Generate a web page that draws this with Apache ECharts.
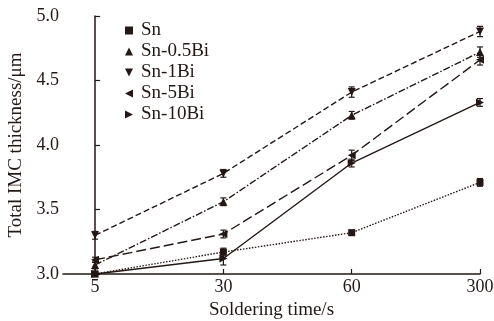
<!DOCTYPE html>
<html><head><meta charset="utf-8">
<script src="https://cdn.jsdelivr.net/npm/echarts@6/dist/echarts.min.js"></script>
<style>html,body{margin:0;padding:0;background:#fff}#c{width:494px;height:321px}</style>
</head><body><div id="c"></div>
<script>
var categories = ['5', '30', '60', '300'];
var seriesNames = ['Sn', 'Sn-0.5Bi', 'Sn-1Bi', 'Sn-5Bi', 'Sn-10Bi'];
var snVals      = [3.00, 3.17, 3.32, 3.71];
var sn05Vals    = [3.07, 3.56, 4.23, 4.72];
var sn1Vals     = [3.30, 3.78, 4.41, 4.88];
var sn5Vals     = [3.11, 3.31, 3.92, 4.66];
var sn10Vals    = [3.00, 3.12, 3.86, 4.33];
var snErr   = [0.02, 0.03, 0.02, 0.03];
var sn05Err = [0.03, 0.03, 0.03, 0.04];
var sn1Err  = [0.03, 0.03, 0.04, 0.04];
var sn5Err  = [0.02, 0.03, 0.04, 0.04];
var sn10Err = [0.02, 0.05, 0.03, 0.03];
var yTicks = [3.0, 3.5, 4.0, 4.5, 5.0];

var allVals = [snVals, sn05Vals, sn1Vals, sn5Vals, sn10Vals];
var allErr = [snErr, sn05Err, sn1Err, sn5Err, sn10Err];
var symbols = [
  'rect',
  'path://M0,10L5,0L10,10Z',
  'path://M0,0L10,0L5,10Z',
  'path://M10,0L10,10L0,5Z',
  'path://M0,0L10,5L0,10Z'
];
var lineTypes = [[1.5,1.5], [7,2,1.5,2], [6,3], [10,4], 'solid'];
var font = 'Liberation Serif';

var series = [];
allVals.forEach(function (vals, i) {
  series.push({
    name: seriesNames[i], type: 'line',
    data: vals.map(function (v, j) { return [j, v]; }),
    symbol: symbols[i], symbolSize: i === 0 ? 7 : 8,
    itemStyle: { color: '#231815' },
    lineStyle: { color: '#231815', width: 1.4, type: lineTypes[i] },
    z: 3
  });
  series.push({
    type: 'custom', silent: true, z: 4,
    data: vals.map(function (v, j) { return [j, v - allErr[i][j], v + allErr[i][j]]; }),
    renderItem: function (params, api) {
      var lo = api.coord([api.value(0), api.value(1)]);
      var hi = api.coord([api.value(0), api.value(2)]);
      var w = 3;
      var st = { stroke: '#231815', lineWidth: 1.2 };
      return { type: 'group', children: [
        { type: 'line', shape: { x1: lo[0], y1: lo[1], x2: hi[0], y2: hi[1] }, style: st },
        { type: 'line', shape: { x1: lo[0]-w, y1: lo[1], x2: lo[0]+w, y2: lo[1] }, style: st },
        { type: 'line', shape: { x1: hi[0]-w, y1: hi[1], x2: hi[0]+w, y2: hi[1] }, style: st }
      ]};
    }
  });
});

var chart = echarts.init(document.getElementById('c'));
chart.setOption({
  animation: false,
  backgroundColor: '#fff',
  grid: { left: 63, right: 14, top: 16, bottom: 47, containLabel: false, outerBoundsMode: 'none' },
  legend: {
    orient: 'vertical', left: 120, top: 16, itemGap: 2,
    itemWidth: 8, itemHeight: 8,
    data: seriesNames.map(function (n, i) { return { name: n, icon: symbols[i] }; }),
    textStyle: { fontFamily: font, fontSize: 19, lineHeight: 19, color: '#231815', padding: [0,0,0,3] },
    itemStyle: { color: '#231815' }
  },
  xAxis: {
    type: 'value', min: -0.25, max: 3,
    name: 'Soldering time/s', nameLocation: 'middle', nameGap: 26,
    nameTextStyle: { fontFamily: font, fontSize: 19, color: '#231815' },
    axisLine: { show: true, lineStyle: { color: '#231815', width: 1.5 } },
    axisTick: { show: true, inside: true, length: 5, customValues: [0, 1, 2, 3], lineStyle: { color: '#231815', width: 1.2 } },
    axisLabel: { customValues: [0, 1, 2, 3], fontFamily: font, fontSize: 18, color: '#231815', margin: 4,
      formatter: function (v) { return categories[Math.round(v)]; } },
    splitLine: { show: false }
  },
  yAxis: {
    type: 'value', min: 3.0, max: 5.0, interval: 0.5,
    name: 'Total IMC thickness/\u03bcm', nameLocation: 'middle', nameGap: 37,
    nameTextStyle: { fontFamily: font, fontSize: 19, color: '#231815' },
    axisLine: { show: true, lineStyle: { color: '#231815', width: 1.5 } },
    axisTick: { show: true, inside: true, length: 5, lineStyle: { color: '#231815', width: 1.2 } },
    axisLabel: { fontFamily: font, fontSize: 18, color: '#231815', margin: 4,
      formatter: function (v) { return v.toFixed(1); } },
    splitLine: { show: false }
  },
  series: series
});
</script></body></html>
